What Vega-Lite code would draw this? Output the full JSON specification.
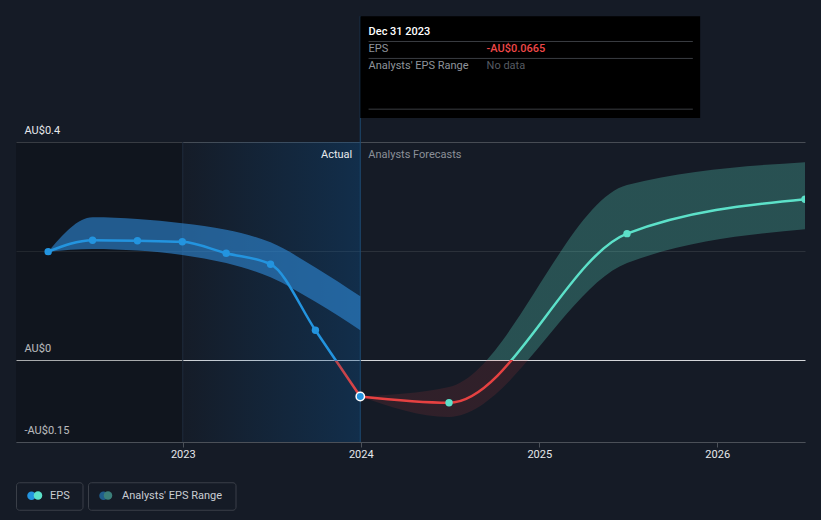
{
  "$schema": "https://vega.github.io/schema/vega-lite/v6.json",
  "width": 789,
  "height": 300,
  "autosize": {"type": "none"},
  "padding": {"left": 16, "top": 142, "right": 16, "bottom": 78},
  "background": "#151b26",
  "config": {
    "view": {"stroke": null},
    "font": "Roboto",
    "axisX": {"grid": false, "domainColor": "#4b5058", "tickColor": "#4b5058", "tickSize": 5, "labelColor": "#e6e8eb", "labelFontSize": 11, "labelPadding": 1, "labelFont": "Roboto", "labelFlush": false},
    "axisY": {"domain": false, "ticks": false, "tickSize": 0, "labelAlign": "left", "labelPadding": -8, "labelBaseline": "alphabetic", "labelOffset": -9, "labelColor": "#e6e8eb", "labelFontSize": 11, "labelFont": "Roboto", "gridWidth": 1}
  },
  "datasets": {
    "eps": [
      {"date": "2022-03-31", "eps": 0.199, "phase": "actual", "latest": false},
      {"date": "2022-06-30", "eps": 0.220, "phase": "actual", "latest": false},
      {"date": "2022-09-30", "eps": 0.219, "phase": "actual", "latest": false},
      {"date": "2022-12-31", "eps": 0.217, "phase": "actual", "latest": false},
      {"date": "2023-03-31", "eps": 0.196, "phase": "actual", "latest": false},
      {"date": "2023-06-30", "eps": 0.176, "phase": "actual", "latest": false},
      {"date": "2023-09-30", "eps": 0.055, "phase": "actual", "latest": false},
      {"date": "2023-12-31", "eps": -0.0665, "phase": "actual", "latest": true},
      {"date": "2023-12-31", "eps": -0.0665, "phase": "forecast", "latest": true},
      {"date": "2024-06-30", "eps": -0.078, "phase": "forecast", "latest": false},
      {"date": "2025-06-30", "eps": 0.232, "phase": "forecast", "latest": false},
      {"date": "2026-06-30", "eps": 0.295, "phase": "forecast", "latest": false}
    ],
    "range": [
      {"date": "2022-03-31", "lo": 0.199, "hi": 0.199, "phase": "actual"},
      {"date": "2022-06-30", "lo": 0.204, "hi": 0.262, "phase": "actual"},
      {"date": "2022-09-30", "lo": 0.201, "hi": 0.259, "phase": "actual"},
      {"date": "2022-12-31", "lo": 0.193, "hi": 0.251, "phase": "actual"},
      {"date": "2023-03-31", "lo": 0.178, "hi": 0.239, "phase": "actual"},
      {"date": "2023-06-30", "lo": 0.152, "hi": 0.216, "phase": "actual"},
      {"date": "2023-09-30", "lo": 0.107, "hi": 0.170, "phase": "actual"},
      {"date": "2023-12-31", "lo": 0.055, "hi": 0.117, "phase": "actual"},
      {"date": "2023-12-31", "lo": -0.0665, "hi": -0.0665, "phase": "forecast"},
      {"date": "2024-06-30", "lo": -0.104, "hi": -0.049, "phase": "forecast"},
      {"date": "2025-06-30", "lo": 0.178, "hi": 0.321, "phase": "forecast"},
      {"date": "2026-06-30", "lo": 0.240, "hi": 0.363, "phase": "forecast"}
    ],
    "zones": [
      {"start": "2022-01-24", "end": "2023-01-01", "zone": "past"},
      {"start": "2023-01-01", "end": "2023-12-31", "zone": "actual"}
    ],
    "notes": [
      {"role": "tag-actual", "date": "2023-12-31", "value": 0.376, "label": "Actual"},
      {"role": "tag-forecast", "date": "2023-12-31", "value": 0.376, "label": "Analysts Forecasts"},
      {"role": "head", "date": "2024-01-17", "value": 0.6025, "label": "Dec 31 2023"},
      {"role": "key", "date": "2024-01-17", "value": 0.5697, "label": "EPS"},
      {"role": "eps", "date": "2024-09-15", "value": 0.5697, "label": "-AU$0.0665"},
      {"role": "key", "date": "2024-01-17", "value": 0.539, "label": "Analysts' EPS Range"},
      {"role": "nodata", "date": "2024-09-15", "value": 0.539, "label": "No data"}
    ],
    "box": [
      {"date": "2023-12-31", "end": "2025-11-27", "top": 0.6307, "bottom": 0.444}
    ],
    "seps": [
      {"date": "2024-01-17", "end": "2025-11-12", "value": 0.5843},
      {"date": "2024-01-17", "end": "2025-11-12", "value": 0.5532},
      {"date": "2024-01-17", "end": "2025-11-12", "value": 0.4602}
    ],
    "series": [
      {"series": "EPS"},
      {"series": "Analysts' EPS Range"}
    ],
    "series2": [
      {"entry": "EPS"},
      {"entry": "Analysts' EPS Range"}
    ]
  },
  "layer": [
    {
      "data": {"name": "zones"},
      "transform": [{"filter": "datum.zone === 'past'"}],
      "mark": {"type": "rect", "color": "#000000", "opacity": 0.2},
      "encoding": {
        "x": {"field": "start", "type": "temporal", "title": null, "scale": {"type": "utc", "nice": false, "domain": [{"year": 2022, "month": 1, "date": 24, "utc": true}, {"year": 2026, "month": 6, "date": 30, "utc": true}]}},
        "x2": {"field": "end"}
      }
    },
    {
      "data": {"name": "zones"},
      "transform": [{"filter": "datum.zone === 'actual'"}],
      "mark": {"type": "rect", "color": {"gradient": "linear", "x1": 0, "y1": 0, "x2": 1, "y2": 0, "stops": [{"offset": 0, "color": "rgba(12,80,140,0.02)"}, {"offset": 1, "color": "rgba(12,80,140,0.36)"}]}},
      "encoding": {
        "x": {"field": "start", "type": "temporal", "title": null, "scale": {"type": "utc", "nice": false, "domain": [{"year": 2022, "month": 1, "date": 24, "utc": true}, {"year": 2026, "month": 6, "date": 30, "utc": true}]}},
        "x2": {"field": "end"}
      }
    },
    {
      "data": {"name": "zones"},
      "transform": [{"filter": "datum.zone === 'actual'"}],
      "mark": {"type": "rule", "color": "#1f2c3c", "strokeWidth": 1},
      "encoding": {
        "x": {"field": "start", "type": "temporal", "title": null, "scale": {"type": "utc", "nice": false, "domain": [{"year": 2022, "month": 1, "date": 24, "utc": true}, {"year": 2026, "month": 6, "date": 30, "utc": true}]}}
      }
    },
    {
      "data": {"name": "box"},
      "mark": {"type": "rule", "color": "#1d4a70", "strokeWidth": 1},
      "encoding": {
        "x": {"field": "date", "type": "temporal", "title": null, "scale": {"type": "utc", "nice": false, "domain": [{"year": 2022, "month": 1, "date": 24, "utc": true}, {"year": 2026, "month": 6, "date": 30, "utc": true}]}},
        "y": {"field": "top", "type": "quantitative", "title": null, "scale": {"domain": [-0.15, 0.4], "nice": false, "zero": false}},
        "y2": {"datum": -0.15}
      }
    },
    {
      "data": {"name": "range"},
      "transform": [{"filter": "datum.phase === 'actual'"}],
      "mark": {"type": "area", "interpolate": "monotone", "color": "#2e8ad8", "opacity": 0.6},
      "encoding": {
        "x": {"field": "date", "type": "temporal", "title": null,
          "scale": {"type": "utc", "nice": false, "domain": [{"year": 2022, "month": 1, "date": 24, "utc": true}, {"year": 2026, "month": 6, "date": 30, "utc": true}]},
          "axis": {"values": [{"year": 2023, "month": 1, "date": 1, "utc": true}, {"year": 2024, "month": 1, "date": 1, "utc": true}, {"year": 2025, "month": 1, "date": 1, "utc": true}, {"year": 2026, "month": 1, "date": 1, "utc": true}], "format": "%Y", "grid": false}},
        "y": {"field": "hi", "type": "quantitative", "title": null,
          "scale": {"domain": [-0.15, 0.4], "nice": false, "zero": false},
          "axis": {"values": [-0.15, 0, 0.2, 0.4], "grid": true,
            "labelExpr": "datum.value === 0.2 ? '' : (datum.value < 0 ? '-' : '') + 'AU$' + format(abs(datum.value), '~g')",
            "gridColor": {"condition": [{"test": "datum.value === 0", "value": "#d4d6d9"}, {"test": "datum.value === 0.4", "value": "#474c54"}], "value": "#2b313a"}}},
        "y2": {"field": "lo"}
      }
    },
    {
      "data": {"name": "range"},
      "transform": [{"filter": "datum.phase === 'forecast'"}],
      "mark": {"type": "area", "interpolate": "monotone",
        "color": {"gradient": "linear", "x1": 0, "y1": 0, "x2": 0, "y2": 1, "stops": [{"offset": 0, "color": "rgba(92,225,201,0.27)"}, {"offset": 0.777, "color": "rgba(92,225,201,0.27)"}, {"offset": 0.777, "color": "rgba(230,65,65,0.13)"}, {"offset": 1, "color": "rgba(230,65,65,0.13)"}]}},
      "encoding": {
        "x": {"field": "date", "type": "temporal", "title": null, "scale": {"type": "utc", "nice": false, "domain": [{"year": 2022, "month": 1, "date": 24, "utc": true}, {"year": 2026, "month": 6, "date": 30, "utc": true}]}},
        "y": {"field": "hi", "type": "quantitative", "title": null, "scale": {"domain": [-0.15, 0.4], "nice": false, "zero": false}},
        "y2": {"field": "lo"}
      }
    },
    {
      "data": {"name": "eps"},
      "transform": [{"filter": "datum.phase === 'actual'"}],
      "mark": {"type": "line", "interpolate": "monotone", "strokeWidth": 2.5,
        "color": {"gradient": "linear", "x1": 0, "y1": 0, "x2": 0, "y2": 1, "stops": [{"offset": 0, "color": "#2394df"}, {"offset": 0.768, "color": "#2394df"}, {"offset": 0.775, "color": "#b8454f"}, {"offset": 1, "color": "#e54242"}]}},
      "encoding": {
        "x": {"field": "date", "type": "temporal", "title": null, "scale": {"type": "utc", "nice": false, "domain": [{"year": 2022, "month": 1, "date": 24, "utc": true}, {"year": 2026, "month": 6, "date": 30, "utc": true}]}},
        "y": {"field": "eps", "type": "quantitative", "title": null, "scale": {"domain": [-0.15, 0.4], "nice": false, "zero": false}}
      }
    },
    {
      "data": {"name": "eps"},
      "transform": [{"filter": "datum.phase === 'forecast'"}],
      "mark": {"type": "line", "interpolate": "monotone", "strokeWidth": 2.5,
        "color": {"gradient": "linear", "x1": 0, "y1": 0, "x2": 0, "y2": 1, "stops": [{"offset": 0, "color": "#5ce1c9"}, {"offset": 0.791, "color": "#5ce1c9"}, {"offset": 0.791, "color": "#e64141"}, {"offset": 1, "color": "#e64141"}]}},
      "encoding": {
        "x": {"field": "date", "type": "temporal", "title": null, "scale": {"type": "utc", "nice": false, "domain": [{"year": 2022, "month": 1, "date": 24, "utc": true}, {"year": 2026, "month": 6, "date": 30, "utc": true}]}},
        "y": {"field": "eps", "type": "quantitative", "title": null, "scale": {"domain": [-0.15, 0.4], "nice": false, "zero": false}}
      }
    },
    {
      "data": {"name": "eps"},
      "transform": [{"filter": "datum.phase === 'actual' && !datum.latest"}],
      "mark": {"type": "point", "filled": true, "opacity": 1, "size": 55, "color": "#2394df"},
      "encoding": {
        "x": {"field": "date", "type": "temporal", "title": null, "scale": {"type": "utc", "nice": false, "domain": [{"year": 2022, "month": 1, "date": 24, "utc": true}, {"year": 2026, "month": 6, "date": 30, "utc": true}]}},
        "y": {"field": "eps", "type": "quantitative", "title": null, "scale": {"domain": [-0.15, 0.4], "nice": false, "zero": false}}
      }
    },
    {
      "data": {"name": "eps"},
      "transform": [{"filter": "datum.phase === 'forecast' && !datum.latest"}],
      "mark": {"type": "point", "filled": true, "opacity": 1, "size": 55, "color": "#5ce1c9", "clip": true},
      "encoding": {
        "x": {"field": "date", "type": "temporal", "title": null, "scale": {"type": "utc", "nice": false, "domain": [{"year": 2022, "month": 1, "date": 24, "utc": true}, {"year": 2026, "month": 6, "date": 30, "utc": true}]}},
        "y": {"field": "eps", "type": "quantitative", "title": null, "scale": {"domain": [-0.15, 0.4], "nice": false, "zero": false}}
      }
    },
    {
      "data": {"name": "eps"},
      "transform": [{"filter": "datum.phase === 'actual' && datum.latest"}],
      "mark": {"type": "point", "filled": true, "opacity": 1, "size": 70, "fill": "#2394df", "stroke": "#ffffff", "strokeWidth": 1.5},
      "encoding": {
        "x": {"field": "date", "type": "temporal", "title": null, "scale": {"type": "utc", "nice": false, "domain": [{"year": 2022, "month": 1, "date": 24, "utc": true}, {"year": 2026, "month": 6, "date": 30, "utc": true}]}},
        "y": {"field": "eps", "type": "quantitative", "title": null, "scale": {"domain": [-0.15, 0.4], "nice": false, "zero": false}}
      }
    },
    {
      "data": {"name": "notes"},
      "transform": [{"filter": "datum.role === 'tag-actual'"}],
      "mark": {"type": "text", "align": "right", "baseline": "middle", "dx": -8, "font": "Roboto", "fontSize": 11, "color": "#e8eaed"},
      "encoding": {
        "x": {"field": "date", "type": "temporal", "title": null, "scale": {"type": "utc", "nice": false, "domain": [{"year": 2022, "month": 1, "date": 24, "utc": true}, {"year": 2026, "month": 6, "date": 30, "utc": true}]}},
        "y": {"field": "value", "type": "quantitative", "title": null, "scale": {"domain": [-0.15, 0.4], "nice": false, "zero": false}},
        "text": {"field": "label"}
      }
    },
    {
      "data": {"name": "notes"},
      "transform": [{"filter": "datum.role === 'tag-forecast'"}],
      "mark": {"type": "text", "align": "left", "baseline": "middle", "dx": 8, "font": "Roboto", "fontSize": 11, "color": "#8b9098"},
      "encoding": {
        "x": {"field": "date", "type": "temporal", "title": null, "scale": {"type": "utc", "nice": false, "domain": [{"year": 2022, "month": 1, "date": 24, "utc": true}, {"year": 2026, "month": 6, "date": 30, "utc": true}]}},
        "y": {"field": "value", "type": "quantitative", "title": null, "scale": {"domain": [-0.15, 0.4], "nice": false, "zero": false}},
        "text": {"field": "label"}
      }
    },
    {
      "data": {"name": "box"},
      "mark": {"type": "rect", "color": "#000000", "opacity": 1},
      "encoding": {
        "x": {"field": "date", "type": "temporal", "title": null, "scale": {"type": "utc", "nice": false, "domain": [{"year": 2022, "month": 1, "date": 24, "utc": true}, {"year": 2026, "month": 6, "date": 30, "utc": true}]}},
        "x2": {"field": "end"},
        "y": {"field": "top", "type": "quantitative", "title": null, "scale": {"domain": [-0.15, 0.4], "nice": false, "zero": false}},
        "y2": {"field": "bottom"}
      }
    },
    {
      "data": {"name": "seps"},
      "mark": {"type": "rule", "color": "#3a3d42", "strokeWidth": 1},
      "encoding": {
        "x": {"field": "date", "type": "temporal", "title": null, "scale": {"type": "utc", "nice": false, "domain": [{"year": 2022, "month": 1, "date": 24, "utc": true}, {"year": 2026, "month": 6, "date": 30, "utc": true}]}},
        "x2": {"field": "end"},
        "y": {"field": "value", "type": "quantitative", "title": null, "scale": {"domain": [-0.15, 0.4], "nice": false, "zero": false}}
      }
    },
    {
      "data": {"name": "notes"},
      "transform": [{"filter": "datum.role === 'head'"}],
      "mark": {"type": "text", "align": "left", "baseline": "middle", "font": "Roboto", "fontSize": 11, "fontWeight": 500, "color": "#ffffff"},
      "encoding": {
        "x": {"field": "date", "type": "temporal", "title": null, "scale": {"type": "utc", "nice": false, "domain": [{"year": 2022, "month": 1, "date": 24, "utc": true}, {"year": 2026, "month": 6, "date": 30, "utc": true}]}},
        "y": {"field": "value", "type": "quantitative", "title": null, "scale": {"domain": [-0.15, 0.4], "nice": false, "zero": false}},
        "text": {"field": "label"}
      }
    },
    {
      "data": {"name": "notes"},
      "transform": [{"filter": "datum.role === 'key'"}],
      "mark": {"type": "text", "align": "left", "baseline": "middle", "font": "Roboto", "fontSize": 11, "color": "#8f949b"},
      "encoding": {
        "x": {"field": "date", "type": "temporal", "title": null, "scale": {"type": "utc", "nice": false, "domain": [{"year": 2022, "month": 1, "date": 24, "utc": true}, {"year": 2026, "month": 6, "date": 30, "utc": true}]}},
        "y": {"field": "value", "type": "quantitative", "title": null, "scale": {"domain": [-0.15, 0.4], "nice": false, "zero": false}},
        "text": {"field": "label"}
      }
    },
    {
      "data": {"name": "notes"},
      "transform": [{"filter": "datum.role === 'eps'"}],
      "mark": {"type": "text", "align": "left", "baseline": "middle", "font": "Roboto", "fontSize": 11, "fontWeight": 500, "color": "#f04848"},
      "encoding": {
        "x": {"field": "date", "type": "temporal", "title": null, "scale": {"type": "utc", "nice": false, "domain": [{"year": 2022, "month": 1, "date": 24, "utc": true}, {"year": 2026, "month": 6, "date": 30, "utc": true}]}},
        "y": {"field": "value", "type": "quantitative", "title": null, "scale": {"domain": [-0.15, 0.4], "nice": false, "zero": false}},
        "text": {"field": "label"}
      }
    },
    {
      "data": {"name": "notes"},
      "transform": [{"filter": "datum.role === 'nodata'"}],
      "mark": {"type": "text", "align": "left", "baseline": "middle", "font": "Roboto", "fontSize": 11, "color": "#565b62"},
      "encoding": {
        "x": {"field": "date", "type": "temporal", "title": null, "scale": {"type": "utc", "nice": false, "domain": [{"year": 2022, "month": 1, "date": 24, "utc": true}, {"year": 2026, "month": 6, "date": 30, "utc": true}]}},
        "y": {"field": "value", "type": "quantitative", "title": null, "scale": {"domain": [-0.15, 0.4], "nice": false, "zero": false}},
        "text": {"field": "label"}
      }
    },
    {
      "data": {"name": "series"},
      "mark": {"type": "point", "filled": true, "opacity": 0},
      "encoding": {
        "color": {"field": "series", "type": "nominal", "title": null,
          "scale": {"domain": ["EPS", "Analysts' EPS Range"], "range": ["#2394df", "#1f5d8c"]},
          "legend": {
            "orient": "none", "legendX": 0, "legendY": 340, "direction": "horizontal", "title": null,
            "padding": 0, "columnPadding": 4, "offset": 0, "zindex": 1,
            "symbolType": "circle", "symbolSize": 72,
            "labelFont": "Roboto", "labelFontSize": 11, "labelColor": "#c9cdd3",
            "encode": {
              "entries": {"update": {"stroke": {"value": "#3a3f48"}, "strokeWidth": {"value": 1}, "cornerRadius": {"value": 3}, "noBound": {"value": false}, "width": {"signal": "datum.index === 0 ? 66 : 147"}, "height": {"value": 27}}},
              "symbols": {"update": {"x": {"value": 15.5}, "y": {"value": 13.5}, "opacity": {"value": 1}, "strokeWidth": {"value": 0}}},
              "labels": {"update": {"x": {"value": 34}, "y": {"value": 13.5}, "baseline": {"value": "middle"}, "opacity": {"value": 1}}}
            }
          }
        }
      }
    },
    {
      "data": {"name": "series2"},
      "mark": {"type": "point", "filled": true, "opacity": 0},
      "encoding": {
        "fill": {"field": "entry", "type": "nominal", "title": null, "sort": null,
          "scale": {"range": ["#5ce1c9", "#3b7f7a"]},
          "legend": {
            "orient": "none", "legendX": 0, "legendY": 340, "direction": "horizontal", "title": null,
            "padding": 0, "columnPadding": 4, "offset": 0, "zindex": 2,
            "symbolType": "circle", "symbolSize": 72,
            "labelExpr": "''",
            "labelFont": "Roboto", "labelFontSize": 11, "labelColor": "#c9cdd3",
            "encode": {
              "entries": {"update": {"noBound": {"value": false}, "width": {"signal": "datum.index === 0 ? 66 : 147"}, "height": {"value": 27}}},
              "symbols": {"update": {"x": {"value": 22}, "y": {"value": 13.5}, "opacity": {"value": 1}, "strokeWidth": {"value": 0}}},
              "labels": {"update": {"x": {"value": 34}, "y": {"value": 13.5}, "baseline": {"value": "middle"}}}
            }
          }
        }
      }
    }
  ]
}
